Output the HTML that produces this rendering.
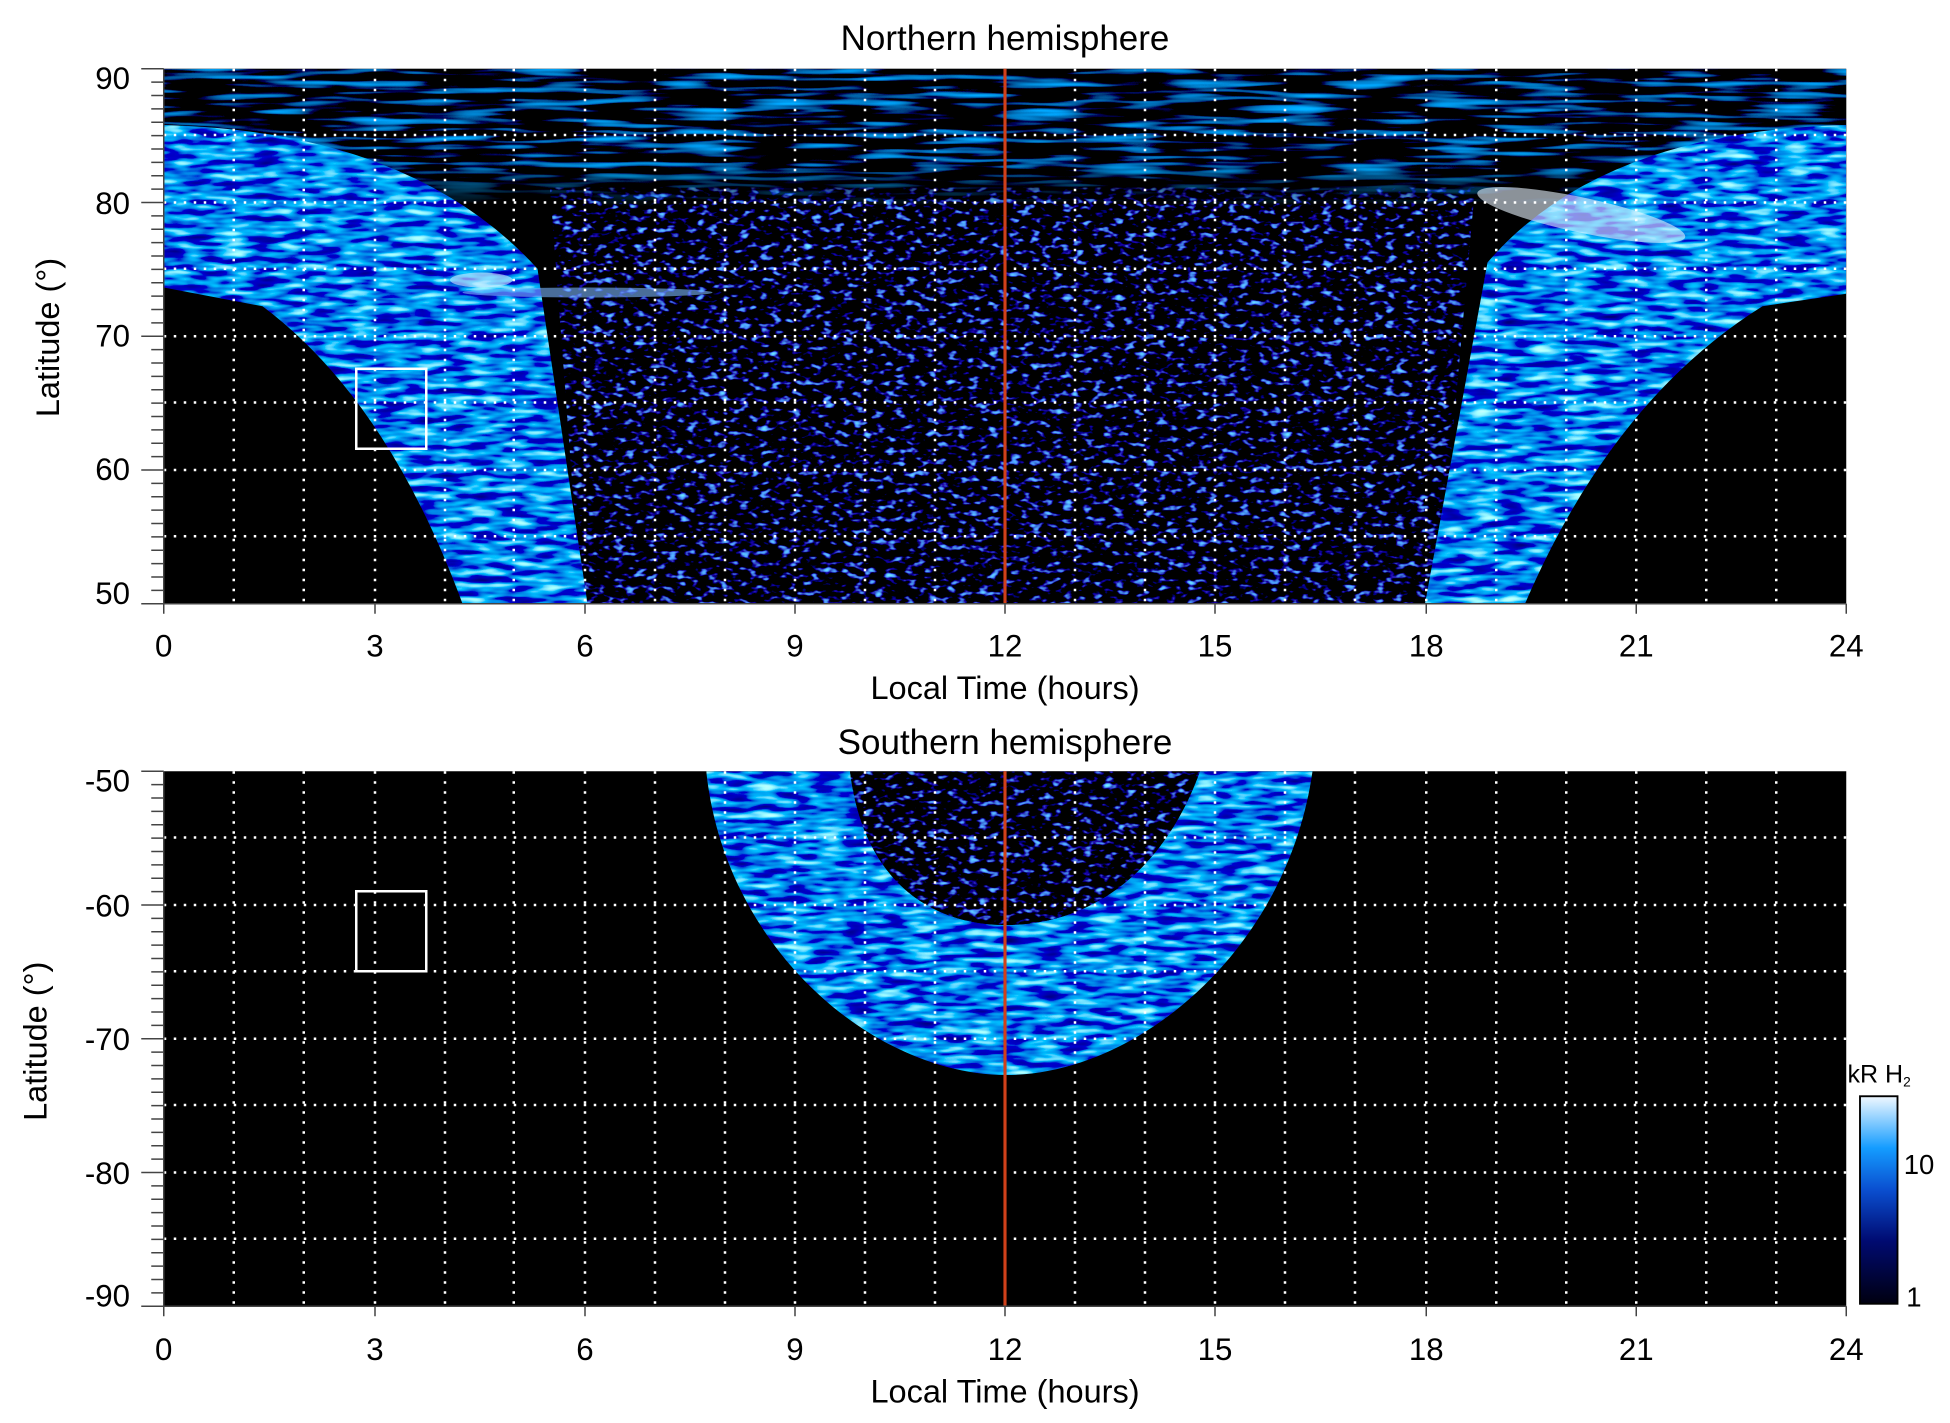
<!DOCTYPE html>
<html><head><meta charset="utf-8"><style>
html,body{margin:0;padding:0;background:#fff;}
svg{display:block;font-family:"Liberation Sans",Arial,sans-serif;}
</style></head><body>
<svg width="1950" height="1423" viewBox="0 0 1560 1138.4" xmlns="http://www.w3.org/2000/svg">
<defs>
  <filter id="nz1" x="0" y="0" width="100%" height="100%">
    <feTurbulence type="fractalNoise" baseFrequency="0.015 0.2" numOctaves="2" seed="3"/>
    <feColorMatrix type="matrix" values="0 0 0 0 0  1.4 0 0 0 -0.75  3.2 0 0 0 -1.6  0 0 0 0 1"/>
  </filter>
  <filter id="nz2" x="0" y="0" width="100%" height="100%">
    <feTurbulence type="fractalNoise" baseFrequency="0.12 0.22" numOctaves="2" seed="7"/>
    <feColorMatrix type="matrix" values="0.5 0 0 0 -0.3  3 0 0 0 -1.9  5 0 0 0 -2.75  0 0 0 0 1"/>
  </filter>
  <filter id="nz3" x="0" y="0" width="100%" height="100%">
    <feTurbulence type="fractalNoise" baseFrequency="0.04 0.18" numOctaves="2" seed="11"/>
    <feColorMatrix type="matrix" values="2 0 0 0 -1.25  2.4 0 0 0 -0.95  1.6 0 0 0 0.02  0 0 0 0 1"/>
  </filter>
  <linearGradient id="fadeTop" x1="0" y1="0" x2="0" y2="1">
    <stop offset="0" stop-color="#fff"/><stop offset="0.7" stop-color="#fff"/><stop offset="1" stop-color="#000"/>
  </linearGradient>
  <mask id="mtop"><rect x="131" y="55" width="1346" height="110" fill="url(#fadeTop)"/></mask>
  <clipPath id="ctop"><rect x="131" y="55" width="1346" height="428"/></clipPath>
  <clipPath id="cbot"><rect x="131" y="617" width="1346" height="428"/></clipPath>
  <clipPath id="lband"><path d="M131,100 Q330,105 430,215 L470,483 L370,483 Q310,320 210,245 L131,230 Z"/></clipPath>
  <clipPath id="rband"><path d="M1477,100 Q1280,105 1190,210 L1140,483 L1220,483 Q1290,320 1410,245 L1477,235 Z"/></clipPath>
  <clipPath id="mid"><path d="M440,150 L1180,150 L1150,483 L465,483 Z"/></clipPath>
  <clipPath id="ring"><path d="M565,617 C580,760 700,860 805,860 C910,860 1030,760 1050,617 L960,617 C930,700 870,740 805,740 C740,740 690,700 680,617 Z"/></clipPath>
  <clipPath id="inner"><path d="M680,617 C690,700 740,740 805,740 C870,740 930,700 960,617 Z"/></clipPath>
  <linearGradient id="cb" x1="0" y1="1" x2="0" y2="0">
    <stop offset="0" stop-color="#000010"/><stop offset="0.3" stop-color="#000a70"/>
    <stop offset="0.55" stop-color="#0a4fd0"/><stop offset="0.75" stop-color="#149cff"/>
    <stop offset="1" stop-color="#f0f8ff"/>
  </linearGradient>
</defs>

<rect x="131" y="55" width="1346" height="428" fill="#000"/>
<g clip-path="url(#ctop)">
  <g clip-path="url(#mid)"><rect x="131" y="55" width="1346" height="428" filter="url(#nz2)"/></g>
  <rect x="131" y="55" width="1346" height="110" filter="url(#nz1)" mask="url(#mtop)"/>
  <g clip-path="url(#lband)"><rect x="131" y="55" width="400" height="428" filter="url(#nz3)"/></g>
  <g clip-path="url(#rband)"><rect x="1100" y="55" width="377" height="428" filter="url(#nz3)"/></g>
  <ellipse cx="1265" cy="172" rx="85" ry="14" fill="#e8f4ff" opacity="0.6" transform="rotate(12 1265 172)"/>
  <ellipse cx="470" cy="234" rx="100" ry="4" fill="#7cb8ff" opacity="0.6"/>
  <ellipse cx="385" cy="224" rx="25" ry="6" fill="#d8ecff" opacity="0.6"/>
</g>

<rect x="131" y="617" width="1346" height="428" fill="#000"/>
<g clip-path="url(#cbot)">
  <g clip-path="url(#ring)"><rect x="560" y="617" width="500" height="250" filter="url(#nz3)"/></g>
  <g clip-path="url(#inner)"><rect x="560" y="617" width="500" height="250" filter="url(#nz2)"/></g>
</g>

<g stroke="#fff" stroke-width="2" stroke-dasharray="2,6" fill="none">
  <path d="M187,55V483M243,55V483M300,55V483M356,55V483M411,55V483M468,55V483M524,55V483M580,55V483M636,55V483M692,55V483M748,55V483M860,55V483M916,55V483M972,55V483M1028,55V483M1084,55V483M1141,55V483M1197,55V483M1253,55V483M1309,55V483M1365,55V483M1421,55V483"/>
  <path d="M131,108H1477M131,162H1477M131,215H1477M131,269H1477M131,322H1477M131,376H1477M131,429H1477"/>
  <path d="M187,617V1045M243,617V1045M300,617V1045M356,617V1045M411,617V1045M468,617V1045M524,617V1045M580,617V1045M636,617V1045M692,617V1045M748,617V1045M860,617V1045M916,617V1045M972,617V1045M1028,617V1045M1084,617V1045M1141,617V1045M1197,617V1045M1253,617V1045M1309,617V1045M1365,617V1045M1421,617V1045"/>
  <path d="M131,670H1477M131,724H1477M131,777H1477M131,831H1477M131,884H1477M131,938H1477M131,991H1477"/>
</g>
<line x1="804" y1="55" x2="804" y2="483" stroke="#d0401a" stroke-width="2.5"/>
<line x1="804" y1="617" x2="804" y2="1045" stroke="#d0401a" stroke-width="2.5"/>
<rect x="285" y="295" width="56" height="64" fill="none" stroke="#fff" stroke-width="2"/>
<rect x="285" y="713" width="56" height="64" fill="none" stroke="#fff" stroke-width="2"/>

<g stroke="#444" stroke-width="1.2" fill="none">
  <path d="M131,55V483H1477"/>
  <path d="M131,617V1045H1477"/>
</g>
<g stroke="#444" stroke-width="1.2">
  <path d="M113,55H131M113,162H131M113,269H131M113,376H131M113,483H131M113,617H131M113,724H131M113,831H131M113,938H131M113,1045H131"/>
  <path d="M121,65.7H131M121,76.4H131M121,87.1H131M121,97.8H131M121,108.5H131M121,119.2H131M121,129.9H131M121,140.6H131M121,151.3H131M121,172.7H131M121,183.4H131M121,194.1H131M121,204.8H131M121,215.5H131M121,226.2H131M121,236.9H131M121,247.6H131M121,258.3H131M121,279.7H131M121,290.4H131M121,301.1H131M121,311.8H131M121,322.5H131M121,333.2H131M121,343.9H131M121,354.6H131M121,365.3H131M121,386.7H131M121,397.4H131M121,408.1H131M121,418.8H131M121,429.5H131M121,440.2H131M121,450.9H131M121,461.6H131M121,472.3H131"/>
  <path d="M121,627.7H131M121,638.4H131M121,649.1H131M121,659.8H131M121,670.5H131M121,681.2H131M121,691.9H131M121,702.6H131M121,713.3H131M121,734.7H131M121,745.4H131M121,756.1H131M121,766.8H131M121,777.5H131M121,788.2H131M121,798.9H131M121,809.6H131M121,820.3H131M121,841.7H131M121,852.4H131M121,863.1H131M121,873.8H131M121,884.5H131M121,895.2H131M121,905.9H131M121,916.6H131M121,927.3H131M121,948.7H131M121,959.4H131M121,970.1H131M121,980.8H131M121,991.5H131M121,1002.2H131M121,1012.9H131M121,1023.6H131M121,1034.3H131"/>
  <path d="M131,483v8M300,483v8M468,483v8M636,483v8M804,483v8M972,483v8M1141,483v8M1309,483v8M1477,483v8"/>
  <path d="M131,1045v8M300,1045v8M468,1045v8M636,1045v8M804,1045v8M972,1045v8M1141,1045v8M1309,1045v8M1477,1045v8"/>
</g>

<g font-size="25" fill="#000" text-anchor="end">
  <text x="104" y="71">90</text><text x="104" y="171">80</text><text x="104" y="277">70</text><text x="104" y="384">60</text><text x="104" y="483">50</text>
  <text x="104" y="633">-50</text><text x="104" y="733">-60</text><text x="104" y="840">-70</text><text x="104" y="947">-80</text><text x="104" y="1045">-90</text>
</g>
<g font-size="25" fill="#000" text-anchor="middle">
  <text x="131" y="525">0</text><text x="300" y="525">3</text><text x="468" y="525">6</text><text x="636" y="525">9</text><text x="804" y="525">12</text><text x="972" y="525">15</text><text x="1141" y="525">18</text><text x="1309" y="525">21</text><text x="1477" y="525">24</text>
  <text x="131" y="1088">0</text><text x="300" y="1088">3</text><text x="468" y="1088">6</text><text x="636" y="1088">9</text><text x="804" y="1088">12</text><text x="972" y="1088">15</text><text x="1141" y="1088">18</text><text x="1309" y="1088">21</text><text x="1477" y="1088">24</text>
  <text x="804" y="559" font-size="26">Local Time (hours)</text>
  <text x="804" y="1122" font-size="26">Local Time (hours)</text>
  <text x="804" y="40" font-size="28">Northern hemisphere</text>
  <text x="804" y="603" font-size="28">Southern hemisphere</text>
  <text transform="translate(47,270) rotate(-90)" font-size="26">Latitude (°)</text>
  <text transform="translate(37,833) rotate(-90)" font-size="26">Latitude (°)</text>
</g>

<rect x="1488" y="877" width="30" height="166" fill="url(#cb)" stroke="#000" stroke-width="1.5"/>
<text x="1478" y="866" font-size="20">kR H<tspan font-size="11" dy="3">2</tspan></text>
<text x="1523" y="939" font-size="22">10</text>
<text x="1525" y="1045" font-size="22">1</text>
</svg>
</body></html>
